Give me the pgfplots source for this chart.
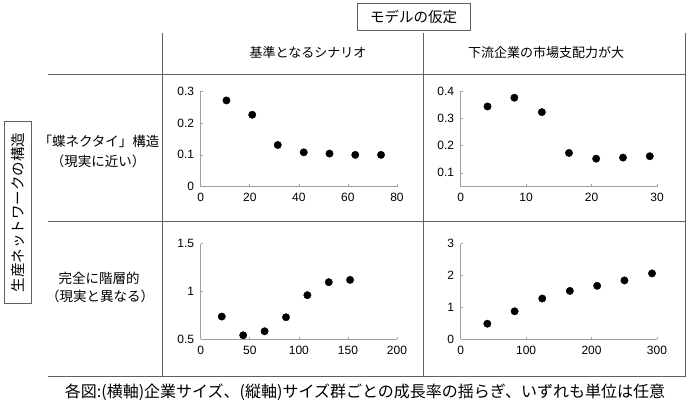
\documentclass[border=0pt]{standalone}
\usepackage{pgfplots}
\pgfplotsset{compat=1.18}
\usepackage{fontspec}
\setmainfont{Liberation Sans}
\newfontfamily\jp{Noto Sans CJK JP}
\definecolor{tbl}{HTML}{606060}
\definecolor{axg}{HTML}{A0A0A0}
\pgfplotsset{
  panel/.style={
    scale only axis, width=196.3pt, height=95.5pt, anchor=south west,
    axis lines=left, axis line style={-, draw=axg, line width=0.7pt},
    tick align=inside, major tick length=2.5pt, tick style={draw=axg, line width=0.6pt},
    ticklabel style={font=\fontsize{12}{12}\selectfont},
    /pgf/number format/assume math mode=true,
    xticklabel style={yshift=-3pt},
    yticklabel style={xshift=-3pt},
    clip=false,
  },
  dots/.style={only marks, mark=*, mark size=3.7pt, color=black},
}
\begin{document}
\begin{tikzpicture}
\begin{scope}[x=1pt,y=1pt]
\useasboundingbox (0,0) rectangle (688,409);
% table lines
\draw[tbl, line width=0.9pt] (48,334.5) -- (685.7,334.5);
\draw[tbl, line width=0.9pt] (48,187.5) -- (685.7,187.5);
\draw[tbl, line width=1.2pt] (48,32.5) -- (685.7,32.5);
\draw[tbl, line width=0.9pt] (162.7,376.3) -- (162.7,32.5);
\draw[tbl, line width=0.9pt] (423,376.3) -- (423,32.5);
\draw[tbl, line width=0.9pt] (685.7,376.3) -- (685.7,32.5);
% header box
\node[draw=tbl, line width=0.8pt, minimum width=113pt, minimum height=27pt, inner sep=0pt,
      font=\jp\fontsize{14.5}{15}\selectfont] at (413.5,392.5) {モデルの仮定};
\node[font=\jp\fontsize{13}{14}\selectfont] at (308,356.7) {基準となるシナリオ};
\node[font=\jp\fontsize{13}{14}\selectfont] at (546,356.7) {下流企業の市場支配力が大};
% row labels
\node[font=\jp\fontsize{13.5}{14}\selectfont] at (99,267.3) {「蝶ネクタイ」構造};
\node[font=\jp\fontsize{13.5}{14}\selectfont] at (98,248) {（現実に近い）};
\node[font=\jp\fontsize{13.5}{14}\selectfont] at (99,130.7) {完全に階層的};
\node[font=\jp\fontsize{13.5}{14}\selectfont] at (100,112.3) {（現実と異なる）};
% left vertical box
\node[draw=tbl, line width=0.8pt, rotate=90, minimum width=181.3pt, minimum height=27.7pt, inner sep=0pt,
      font=\jp\fontsize{14.5}{15}\selectfont] at (17.8,196.7) {生産ネットワークの構造};
% caption
\node[font=\jp\fontsize{16}{16}\selectfont] at (365,17) {各図:(横軸)企業サイズ、(縦軸)サイズ群ごとの成長率の揺らぎ、いずれも単位は任意};
\end{scope}

% panel 1
\begin{axis}[panel, at={(200.7pt,222.3pt)}, xmin=0, xmax=80, ymin=0, ymax=0.3,
  xtick={0,20,40,60,80}, ytick={0,0.1,0.2,0.3}]
\addplot[dots] coordinates {(10.5,0.271) (21,0.226) (31.4,0.131) (42,0.108) (52.5,0.104) (63,0.100) (73.5,0.100)};
\end{axis}
% panel 2
\begin{axis}[panel, at={(460.7pt,222.3pt)}, xmin=0, xmax=30, ymin=0.049, ymax=0.4,
  xtick={0,10,20,30}, ytick={0.1,0.2,0.3,0.4}]
\addplot[dots] coordinates {(4.1,0.344) (8.2,0.376) (12.4,0.323) (16.55,0.173) (20.7,0.152) (24.8,0.156) (28.9,0.161)};
\end{axis}
% panel 3
\begin{axis}[panel, at={(200.7pt,69.7pt)}, xmin=0, xmax=200, ymin=0.5, ymax=1.5,
  xtick={0,50,100,150,200}, ytick={0.5,1,1.5}]
\addplot[dots] coordinates {(21.5,0.738) (43.3,0.542) (65.1,0.584) (86.9,0.731) (108.7,0.962) (130.5,1.098) (152.2,1.122)};
\end{axis}
% panel 4
\begin{axis}[panel, at={(460.7pt,69.7pt)}, xmin=0, xmax=300, ymin=0, ymax=3,
  xtick={0,100,200,300}, ytick={0,1,2,3}]
\addplot[dots] coordinates {(40.7,0.49) (82.4,0.88) (124.6,1.28) (166.8,1.52) (208.5,1.68) (250.2,1.85) (292.4,2.07)};
\end{axis}
\end{tikzpicture}
\end{document}
